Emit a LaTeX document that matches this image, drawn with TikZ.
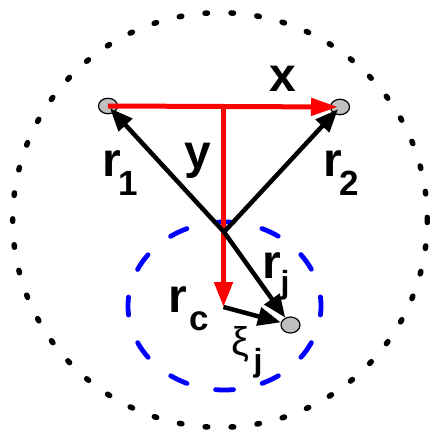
\documentclass[tikz,border=0pt]{standalone}
\usepackage{fontspec}
\setmainfont{Liberation Sans}
\usetikzlibrary{arrows.meta,shapes.geometric}
\begin{document}
\begin{tikzpicture}[x=1pt,y=-1pt,
 pt/.style={ellipse,draw=black,line width=1.2pt,fill=black!25,minimum width=19pt,minimum height=15.5pt,inner sep=0pt},
 redv/.style={draw=red,line width=5pt},
 blk/.style={draw=black,line width=4.5pt},
 tip/.style={-{Triangle[length=23pt,width=18pt]}},
 lbl/.style={anchor=base,inner sep=0pt,font=\bfseries\fontsize{48}{50}\selectfont},
 sub/.style={anchor=base,inner sep=0pt,font=\bfseries\fontsize{35}{37}\selectfont},
 subj/.style={anchor=base,inner sep=0pt,font=\bfseries\fontsize{32}{34}\selectfont},
]
\useasboundingbox (0,0) rectangle (430,430);
\draw[line width=5.5pt,line cap=round,dash pattern=on 2.5pt off 23.5pt] (220,220) circle[radius=207.3];
\draw[blue,line width=4.8pt,line cap=round,dash pattern=on 18pt off 29.3pt,dash phase=9pt] (224.5,306) ellipse[x radius=96.5,y radius=84];
\node[pt] (p1) at (108,106) {};
\node[pt] (p2) at (340,107) {};
\node[pt,minimum width=19pt,minimum height=16pt] (pj) at (290.5,325) {};
\coordinate (O) at (224,232);
\coordinate (T) at (223.5,107);
\coordinate (C) at (223.5,307);
\draw[redv,-{Triangle[length=27pt,width=17pt]},shorten >=2pt] (p1.center) -- (p2.center);
\draw[redv,-{Triangle[length=25pt,width=18pt]}] (T) -- (C);
\draw[blk,tip,shorten >=3pt] (O) -- (p1.center);
\draw[blk,tip,shorten >=3pt] (O) -- (p2.center);
\draw[blk,tip] (O) -- (pj);
\draw[blk,tip] (C) -- (pj);
\node[lbl] (lx) at (283,92) {x};
\node[lbl] (ly) at (198,168) {y};
\node[lbl] (lr1) at (112,177) {r};
\node[sub] (s1) at (128,195) {1};
\node[lbl] (lr2) at (333,177) {r};
\node[sub] (s2) at (349,195) {2};
\node[lbl] (lrj) at (272,278) {r};
\node[subj] (sj) at (285,293) {j};
\node[lbl] (lrc) at (178,312) {r};
\node[sub] (sc) at (199,330) {c};
\node[anchor=base,inner sep=0pt,font=\fontsize{40}{42}\selectfont] (lxi) at (240,355) {ξ};
\node[subj] (sxj) at (258,371) {j};
\end{tikzpicture}
\end{document}
